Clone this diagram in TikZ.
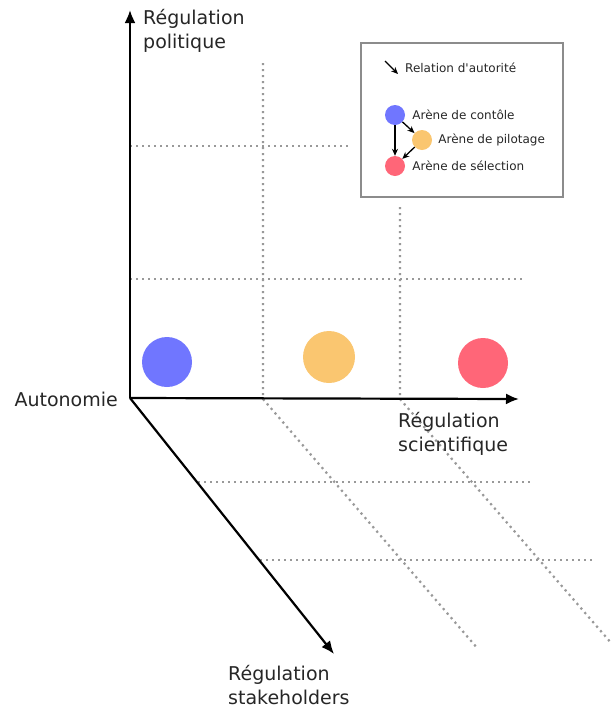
\documentclass[tikz,border=0pt]{standalone}
\usepackage{fontspec}
\setmainfont{DejaVu Sans}
\usetikzlibrary{arrows.meta}
\usetikzlibrary{positioning}
\definecolor{arena_blue}{RGB}{112,118,255}
\definecolor{arena_orange}{RGB}{250,198,112}
\definecolor{arena_red}{RGB}{255,102,120}
\tikzset{
	axis/.style = {
		-{Latex[length=13pt,width=11pt]},
		line width=2.2pt,
		black
	},
	grid_dots/.style = {
		line width=2.2pt,
		dash pattern=on 2.2pt off 3.8pt,
		black!40
	},
	axis_label/.style = {
		align=left,
		inner sep=0pt,
		font=\fontsize{19}{24}\selectfont,
		text=black!85
	},
	arena/.style = {
		circle,
		inner sep=0pt,
		minimum size=50pt
	},
	arena_small/.style = {
		circle,
		inner sep=0pt,
		minimum size=20pt
	},
	legend_text/.style = {
		inner sep=0pt,
		anchor=west,
		font=\fontsize{12}{14}\selectfont,
		text=black!85
	},
	authority/.style = {
		-{Stealth[length=7pt,width=6pt]},
		line width=1.3pt
	},
}

\begin{document}
\begin{tikzpicture}[x=1pt,y=-1pt]
\useasboundingbox (0,0) rectangle (612,710);
\coordinate (origin) at (130,398);
\coordinate (top_end) at (130,10);
\coordinate (right_end) at (519,399);
\coordinate (diag_end) at (334,654);

\draw [grid_dots] (130,146) -- (348,146);
\draw [grid_dots] (130,279) -- (522,279);
\draw [grid_dots] (263,63) -- (263,399) -- (478,649);
\draw [grid_dots] (400,207) -- (400,399) -- (612,644);
\draw [grid_dots] (198,482) -- (533,482);
\draw [grid_dots] (260,560) -- (595,560);

\draw [axis] (origin) -- (top_end);
\draw [axis] (origin) -- (right_end);
\draw [axis] (origin) -- (diag_end);

\node [axis_label, anchor=north west] (politique) at (143,9) {Régulation\\politique};
\node [axis_label, anchor=east] (autonomie) at (118,399) {Autonomie};
\node [axis_label, anchor=north west] (scientifique) at (398,412) {Régulation\\scientifique};
\node [axis_label, anchor=north west] (stakeholders) at (228,665) {Régulation\\stakeholders};

\node [arena, fill=arena_blue] (controle) at (167,362) {};
\node [arena, fill=arena_orange, minimum size=52pt] (pilotage) at (329,357) {};
\node [arena, fill=arena_red] (selection) at (483,363) {};

\draw [black!45, line width=1.4pt] (361,43) rectangle (563,197);
\coordinate (rel_a) at (385,61);
\coordinate (rel_b) at (398,74);
\draw [authority] (rel_a) -- (rel_b);
\node [legend_text] (rel_text) at (405,68) {Relation d\textquotesingle autorité};

\node [arena_small, fill=arena_blue] (l_controle) at (395,115) {};
\node [arena_small, fill=arena_orange] (l_pilotage) at (422,140) {};
\node [arena_small, fill=arena_red] (l_selection) at (395,166) {};
\node [legend_text, right=7pt of l_controle] {Arène de contôle};
\node [legend_text, right=6pt of l_pilotage] {Arène de pilotage};
\node [legend_text, right=7pt of l_selection] {Arène de sélection};

\draw [authority] (l_controle) -- (l_selection);
\draw [authority] (l_controle) -- (l_pilotage);
\draw [authority] (l_pilotage) -- (l_selection);
\end{tikzpicture}
\end{document}
